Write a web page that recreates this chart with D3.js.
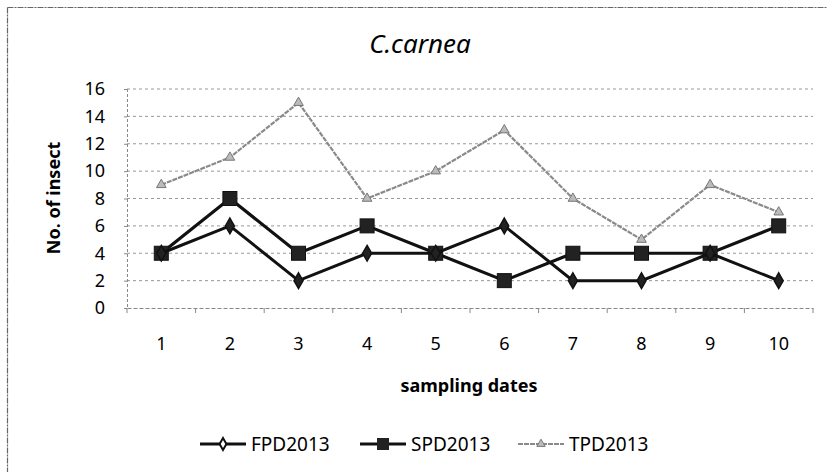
<!DOCTYPE html>
<html><head><meta charset="utf-8">
<script src="https://cdn.jsdelivr.net/npm/d3@7/dist/d3.min.js"></script>
<style>body{margin:0;background:#fff}svg{display:block}</style>
</head><body>
<svg id="c" width="827" height="472"></svg>
<script>
const categories = ["1","2","3","4","5","6","7","8","9","10"];
const fpd = [4,6,2,4,4,6,2,2,4,2];
const spd = [4,8,4,6,4,2,4,4,4,6];
const tpd = [9,11,15,8,10,13,8,5,9,7];
const yTicks = [0,2,4,6,8,10,12,14,16];
const seriesNames = ["FPD2013","SPD2013","TPD2013"];

const font = "'Noto Sans', 'Open Sans', sans-serif";
const svg = d3.select("#c");
const W = 827, H = 472;
const L = 127, R = 813, T = 89, B = 308;

// outer border (top and left edges only visible)
svg.append("line").attr("x1",7.5).attr("x2",W).attr("y1",7.5).attr("y2",7.5)
  .attr("stroke","#666").attr("stroke-width",1.2).attr("stroke-dasharray","6,1,2,1");
svg.append("line").attr("x1",7.5).attr("x2",7.5).attr("y1",7.5).attr("y2",H)
  .attr("stroke","#666").attr("stroke-width",1.2).attr("stroke-dasharray","6,1,2,1");

const x = d3.scaleBand().domain(categories).range([L,R]);
const y = d3.scaleLinear().domain([0,16]).range([B,T]);

// gridlines
svg.append("g").selectAll("line").data(yTicks.filter(d=>d>0)).join("line")
  .attr("x1",L).attr("x2",R).attr("y1",d=>y(d)).attr("y2",d=>y(d))
  .attr("stroke","#999").attr("stroke-width",1).attr("stroke-dasharray","3,3");

// y axis
const ya = svg.append("g").attr("transform",`translate(${L},0)`)
  .call(d3.axisLeft(y).tickValues(yTicks).tickSize(3).tickPadding(19));
ya.select(".domain").attr("stroke","#888").attr("stroke-dasharray","3,2");
ya.selectAll(".tick line").attr("stroke","#888");
ya.selectAll("text").attr("font-family",font).attr("font-size",18).attr("fill","#000");

// x axis
const xa = svg.append("g").attr("transform",`translate(0,${B})`)
  .call(d3.axisBottom(x).tickSize(0).tickPadding(29));
xa.select(".domain").attr("stroke","#888").attr("stroke-dasharray","4,2");
xa.selectAll("text").attr("font-family",font).attr("font-size",18).attr("fill","#000");
// boundary ticks
svg.append("g").selectAll("line").data(d3.range(categories.length+1)).join("line")
  .attr("x1",i=>L+i*x.step()).attr("x2",i=>L+i*x.step())
  .attr("y1",B).attr("y2",B+5).attr("stroke","#888");

const cx = (d,i)=>x(categories[i])+x.bandwidth()/2;
const line = d3.line().x((d,i)=>cx(d,i)).y(d=>y(d));

// TPD
svg.append("path").datum(tpd).attr("d",line).attr("fill","none")
  .attr("stroke","#8a8a8a").attr("stroke-width",2.2).attr("stroke-dasharray","5,1");
svg.append("g").selectAll("path").data(tpd).join("path")
  .attr("transform",(d,i)=>`translate(${cx(d,i)},${y(d)})`)
  .attr("d",d3.symbol(d3.symbolTriangle,40)())
  .attr("fill","#bbb").attr("stroke","#777").attr("stroke-width",1);

// SPD
svg.append("path").datum(spd).attr("d",line).attr("fill","none")
  .attr("stroke","#111").attr("stroke-width",3.2);
svg.append("g").selectAll("rect").data(spd).join("rect")
  .attr("x",(d,i)=>cx(d,i)-7).attr("y",d=>y(d)-7).attr("width",14).attr("height",14)
  .attr("fill","#222").attr("stroke","#111").attr("stroke-width",1);

// FPD
svg.append("path").datum(fpd).attr("d",line).attr("fill","none")
  .attr("stroke","#111").attr("stroke-width",3);
svg.append("g").selectAll("path").data(fpd).join("path")
  .attr("transform",(d,i)=>`translate(${cx(d,i)},${y(d)})`)
  .attr("d",d3.symbol(d3.symbolDiamond,70)())
  .attr("fill","#222").attr("stroke","#111").attr("stroke-width",1.5);

// title
svg.append("text").attr("x",420).attr("y",53).attr("text-anchor","middle")
  .attr("font-family",font).attr("font-style","italic").attr("font-size",26).attr("fill","#000")
  .text("C.carnea");
// axis titles
svg.append("text").attr("transform","translate(60,198) rotate(-90)").attr("text-anchor","middle")
  .attr("font-family",font).attr("font-weight","bold").attr("font-size",18).attr("fill","#000")
  .text("No. of insect");
svg.append("text").attr("x",469).attr("y",392).attr("text-anchor","middle")
  .attr("font-family",font).attr("font-weight","bold").attr("font-size",18).attr("fill","#000")
  .text("sampling dates");

// legend
const leg = [
  {x:200, name:seriesNames[0], type:"diamond"},
  {x:360, name:seriesNames[1], type:"square"},
  {x:518, name:seriesNames[2], type:"triangle"}
];
const ly = 444;
leg.forEach(l=>{
  const g = svg.append("g");
  const gray = l.type==="triangle";
  g.append("line").attr("x1",l.x).attr("x2",l.x+46).attr("y1",ly).attr("y2",ly)
    .attr("stroke",gray?"#8a8a8a":"#111").attr("stroke-width",gray?2:3)
    .attr("stroke-dasharray",gray?"5,1":null);
  const mx = l.x+23;
  if(l.type==="diamond"){
    g.append("path").attr("transform",`translate(${mx},${ly})`).attr("d",d3.symbol(d3.symbolDiamond,40)())
      .attr("fill","#fff").attr("stroke","#111").attr("stroke-width",2);
  } else if(l.type==="square"){
    g.append("rect").attr("x",mx-6).attr("y",ly-6).attr("width",12).attr("height",12).attr("fill","#222");
  } else {
    g.append("path").attr("transform",`translate(${mx},${ly})`).attr("d",d3.symbol(d3.symbolTriangle,30)())
      .attr("fill","#bbb").attr("stroke","#777");
  }
  g.append("text").attr("x",l.x+51).attr("y",451).attr("font-family",font).attr("font-size",19)
    .attr("fill","#000").text(l.name);
});
</script>
</body></html>
